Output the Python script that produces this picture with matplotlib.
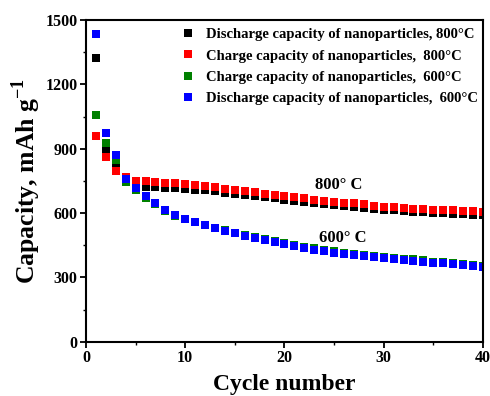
import numpy as np
import matplotlib
matplotlib.use('Agg')
import matplotlib.pyplot as plt
from matplotlib.ticker import MultipleLocator

plt.rcParams['font.family'] = 'Liberation Serif'
plt.rcParams['font.weight'] = 'bold'
plt.rcParams['mathtext.fontset'] = 'custom'
plt.rcParams['mathtext.rm'] = 'Liberation Serif:bold'
plt.rcParams['mathtext.bf'] = 'Liberation Serif:bold'

cycles = np.arange(1, 41)

discharge_800 = [1321, 897, 821, 755, 726, 723, 720, 718, 715, 712,
                 709, 706, 701, 694, 688, 683, 678, 673, 668, 662,
                 657, 651, 646, 641, 636, 631, 627, 623, 619, 615,
                 612, 609, 606, 603, 601, 599, 597, 595, 593, 590]
charge_800 = [959, 860, 796, 766, 751, 748, 745, 741, 738, 735,
              732, 727, 723, 714, 707, 702, 697, 691, 686, 680,
              674, 668, 662, 657, 652, 648, 645, 640, 635, 630,
              627, 623, 620, 617, 615, 614, 612, 610, 608, 606]
charge_600 = [1056, 928, 847, 746, 707, 671, 641, 610, 588, 570,
              557, 543, 531, 519, 508, 497, 487, 479, 471, 461,
              452, 443, 435, 429, 421, 415, 410, 406, 400, 395,
              390, 387, 384, 379, 374, 371, 367, 362, 359, 353]
discharge_600 = [1437, 974, 870, 757, 715, 679, 648, 614, 591, 572,
                 558, 543, 530, 517, 505, 493, 482, 474, 466, 455,
                 446, 437, 429, 423, 415, 409, 404, 400, 394, 389,
                 384, 381, 378, 373, 368, 365, 361, 356, 353, 347]

labels = ['Discharge capacity of nanoparticles, 800\u00b0C',
          'Charge capacity of nanoparticles,  800\u00b0C',
          'Charge capacity of nanoparticles,  600\u00b0C',
          'Discharge capacity of nanoparticles,  600\u00b0C']

fig = plt.figure(figsize=(4.9, 3.96), dpi=100)
ax = fig.add_axes([0.1755, 0.137, 0.81, 0.8125])

series = [discharge_800, charge_800, charge_600, discharge_600]
colors = ['black', 'red', 'green', 'blue']
for vals, c, lab in zip(series, colors, labels):
    ax.plot(cycles, vals, 's', color=c, ms=5.2, mew=0, label=lab)

ax.set_xlim(0, 40)
ax.set_ylim(0, 1500)
ax.xaxis.set_major_locator(MultipleLocator(10))
ax.xaxis.set_minor_locator(MultipleLocator(5))
ax.yaxis.set_major_locator(MultipleLocator(300))
ax.yaxis.set_minor_locator(MultipleLocator(150))
ax.tick_params(which='major', direction='out', length=4, width=1.3, labelsize=11.5, pad=2)
ax.tick_params(which='minor', direction='out', length=2.5, width=1.0)
for sp in ax.spines.values():
    sp.set_linewidth(1.5)

ax.set_xlabel('Cycle number', fontsize=17, fontweight='bold', labelpad=6)
ax.set_ylabel(r'Capacity, mAh g$^{\mathbf{-1}}$', fontsize=18.5, fontweight='bold', labelpad=2)

ax.text(23.1, 730, '800\u00b0 C', fontsize=12, fontweight='bold', ha='left', va='center')
ax.text(23.5, 483, '600\u00b0 C', fontsize=12, fontweight='bold', ha='left', va='center')

ax.legend(loc='upper left', bbox_to_anchor=(0.225, 0.993), borderaxespad=0,
          frameon=False, handlelength=1.0, handletextpad=0.7, labelspacing=0.55,
          prop={'family': 'Liberation Serif', 'weight': 'bold', 'size': 10.5})

fig.savefig('out.png', dpi=100)
